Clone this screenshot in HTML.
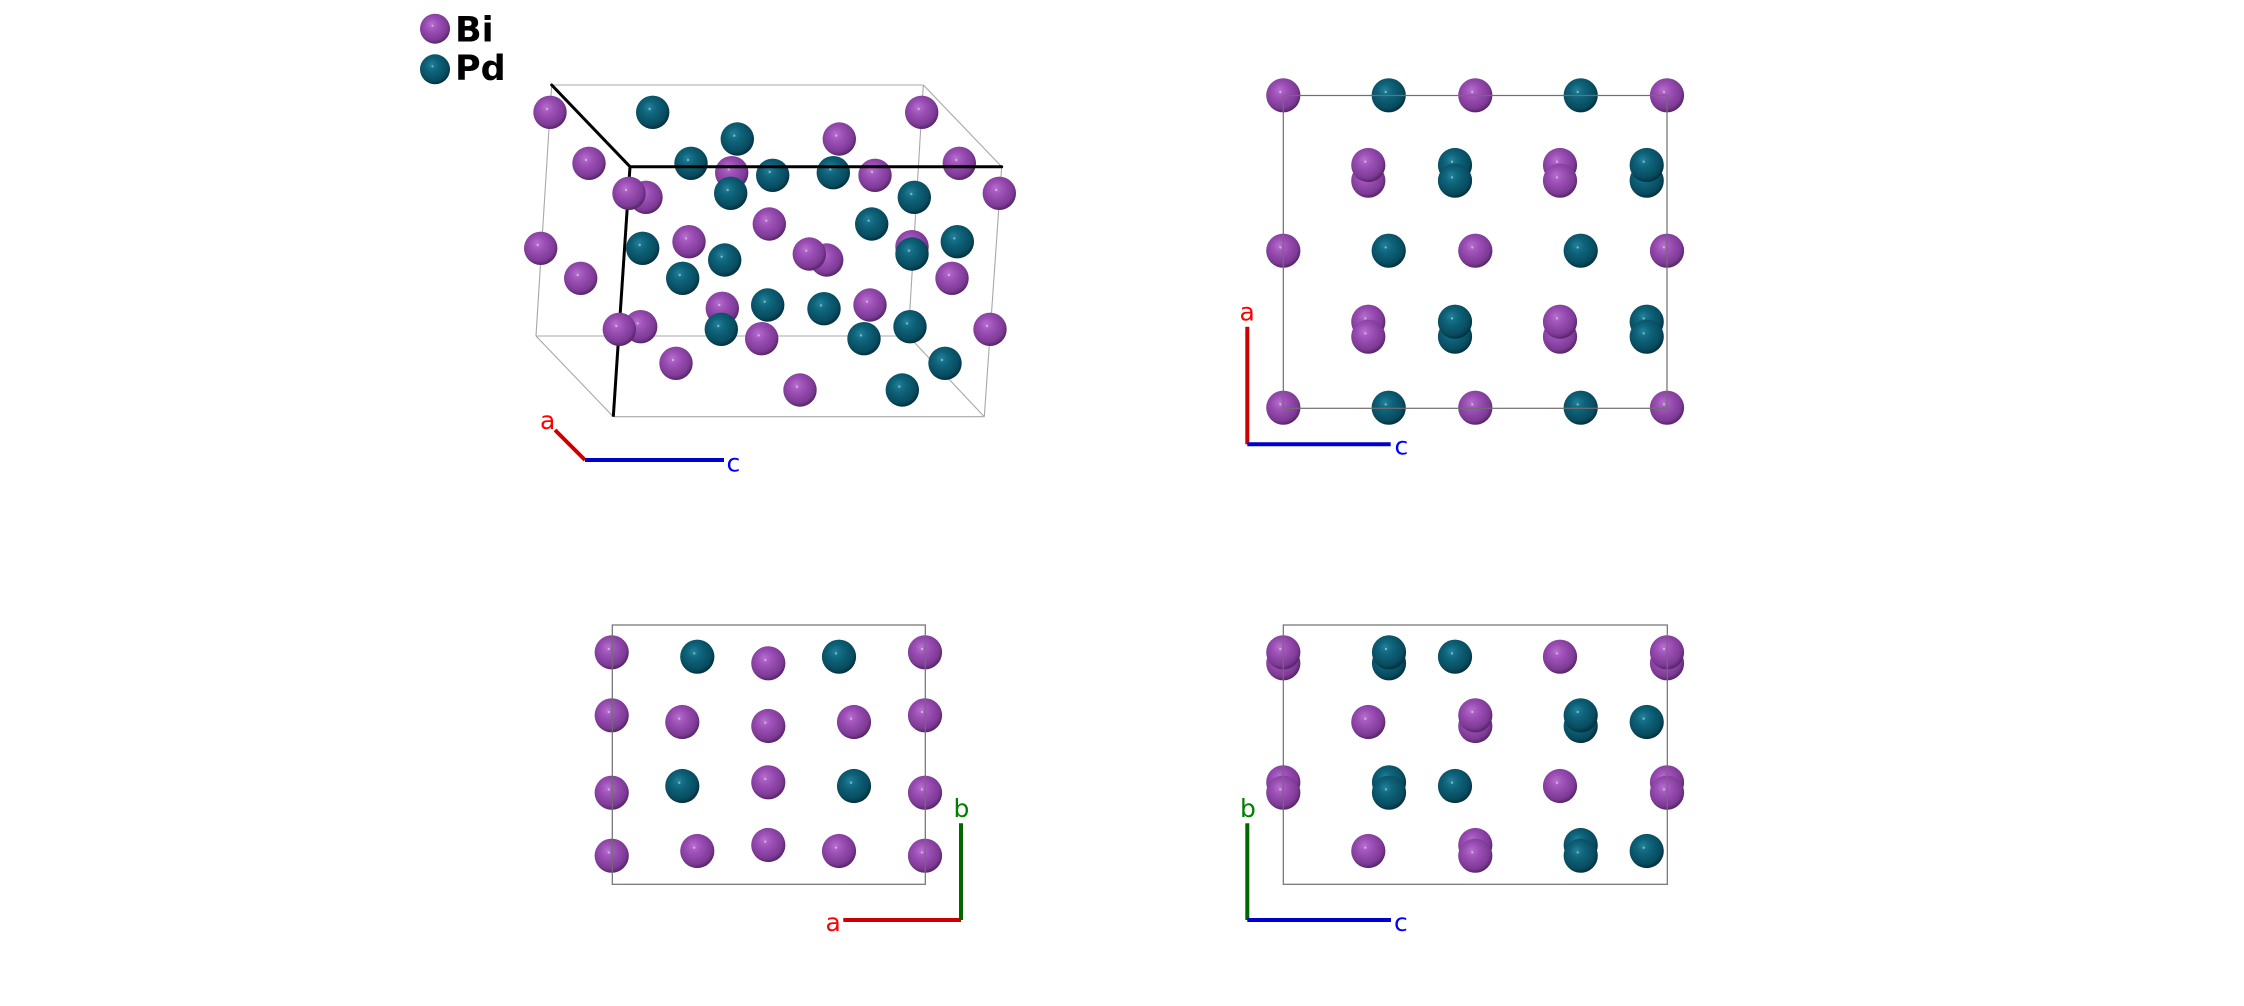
<!DOCTYPE html>
<html>
<head>
<meta charset="utf-8">
<style>
html,body{margin:0;padding:0;background:#fff;}
body{width:2244px;height:1006px;overflow:hidden;}
svg{display:block;}
</style>
</head>
<body>
<svg width="2244" height="1006" viewBox="0 0 2244 1006" xmlns="http://www.w3.org/2000/svg">
<defs>
<radialGradient id="gBi" cx="0.45" cy="0.42" r="0.6" fx="0.38" fy="0.34">
<stop offset="0" stop-color="#b46fcb"/>
<stop offset="0.35" stop-color="#9d50b7"/>
<stop offset="0.8" stop-color="#7d3a95"/>
<stop offset="1" stop-color="#4f2160"/>
</radialGradient>
<radialGradient id="gPd" cx="0.45" cy="0.42" r="0.6" fx="0.38" fy="0.34">
<stop offset="0" stop-color="#23809a"/>
<stop offset="0.35" stop-color="#0e647b"/>
<stop offset="0.8" stop-color="#084b5f"/>
<stop offset="1" stop-color="#022b37"/>
</radialGradient>
<g id="bi"><circle r="17.1" fill="url(#gBi)"/><circle cx="-3" cy="-3.3" r="1.2" fill="#e6c8ee" opacity="0.7"/></g>
<g id="pd"><circle r="17.1" fill="url(#gPd)"/><circle cx="-3" cy="-3.3" r="1.2" fill="#a8d0dc" opacity="0.7"/></g>
<g id="bi2"><circle r="16.7" fill="url(#gBi)"/><circle cx="-3" cy="-3.3" r="1.2" fill="#e6c8ee" opacity="0.7"/></g>
<g id="pd2"><circle r="16.7" fill="url(#gPd)"/><circle cx="-3" cy="-3.3" r="1.2" fill="#a8d0dc" opacity="0.7"/></g>
<g id="bil"><circle r="15" fill="url(#gBi)"/><circle cx="-2.5" cy="-3" r="1.1" fill="#e6c8ee" opacity="0.7"/></g>
<g id="pdl"><circle r="15" fill="url(#gPd)"/><circle cx="-2.5" cy="-3" r="1.1" fill="#a8d0dc" opacity="0.7"/></g>
</defs>

<!-- Legend -->
<use href="#bil" x="435" y="28.7"/>
<use href="#pdl" x="435" y="69.3"/>
<text x="455" y="41.7" font-family="DejaVu Sans, Liberation Sans, sans-serif" font-weight="bold" font-size="35" fill="#000">Bi</text>
<text x="455" y="80" font-family="DejaVu Sans, Liberation Sans, sans-serif" font-weight="bold" font-size="35" fill="#000">Pd</text>

<!-- ===== Top-left 3D panel ===== -->
<g stroke="#a8a8a8" stroke-width="1.1" fill="none">
<line x1="551.7" y1="85" x2="923.3" y2="85"/>
<line x1="551.7" y1="85" x2="536" y2="336"/>
<line x1="536" y1="336" x2="908.3" y2="336"/>
<line x1="923.3" y1="85" x2="908.3" y2="336"/>
<line x1="923.3" y1="85" x2="1001.7" y2="166.7"/>
<line x1="1001.7" y1="166.7" x2="984.3" y2="416.7"/>
<line x1="536" y1="336" x2="613.3" y2="416.7"/>
<line x1="613.3" y1="416.7" x2="984.3" y2="416.7"/>
<line x1="908.3" y1="336" x2="984.3" y2="416.7"/>
</g>
<line x1="630" y1="166.7" x2="613.3" y2="416.7" stroke="#000" stroke-width="3"/>

<use href="#bi2" x="550" y="112.3"/>
<use href="#pd2" x="652.7" y="112.3"/>
<use href="#bi2" x="921.7" y="112.3"/>
<use href="#pd2" x="737.3" y="139"/>
<use href="#bi2" x="839.3" y="139"/>
<use href="#bi2" x="589" y="163.3"/>
<use href="#pd2" x="691" y="163.3"/>
<use href="#bi2" x="959.3" y="163.3"/>
<use href="#bi2" x="731.7" y="172.7"/>
<use href="#pd2" x="772.7" y="175.3"/>
<use href="#pd2" x="833.3" y="172.7"/>
<use href="#bi2" x="875" y="175.3"/>
<use href="#pd2" x="730.7" y="193.3"/>
<use href="#bi2" x="999.3" y="193.3"/>
<use href="#bi2" x="646" y="197.3"/>
<use href="#bi2" x="629" y="193.3"/>
<use href="#pd2" x="914.3" y="197.3"/>
<use href="#bi2" x="769.3" y="224"/>
<use href="#pd2" x="871.7" y="224"/>
<use href="#bi2" x="540.7" y="248.3"/>
<use href="#pd2" x="642.7" y="248.3"/>
<use href="#bi2" x="689" y="241.7"/>
<use href="#pd2" x="724.7" y="260"/>
<use href="#bi2" x="826.7" y="260"/>
<use href="#bi2" x="809.3" y="254"/>
<use href="#bi2" x="912" y="246.7"/>
<use href="#pd2" x="912" y="254"/>
<use href="#pd2" x="957.3" y="241.7"/>
<use href="#bi2" x="580.7" y="278.3"/>
<use href="#pd2" x="682.7" y="278.3"/>
<use href="#bi2" x="952" y="278.3"/>
<use href="#bi2" x="722.3" y="308.3"/>
<use href="#pd2" x="767.7" y="305"/>
<use href="#pd2" x="824" y="308.7"/>
<use href="#bi2" x="870" y="305"/>
<use href="#pd2" x="721.3" y="329.3"/>
<use href="#bi2" x="640.7" y="326.7"/>
<use href="#bi2" x="619.3" y="329.3"/>
<use href="#bi2" x="761.7" y="338.7"/>
<use href="#pd2" x="864" y="338.7"/>
<use href="#pd2" x="910" y="326.7"/>
<use href="#bi2" x="990" y="329.3"/>
<use href="#bi2" x="676" y="363.3"/>
<use href="#pd2" x="945" y="363.3"/>
<use href="#bi2" x="800" y="390"/>
<use href="#pd2" x="902.3" y="390"/>

<g stroke="#000" stroke-width="3" fill="none" stroke-linecap="round">
<line x1="551.7" y1="85" x2="630" y2="166.7"/>
<line x1="630" y1="166.7" x2="1001.7" y2="166.7"/>
</g>

<!-- axes TL -->
<line x1="555" y1="430" x2="585" y2="460" stroke="#cc0000" stroke-width="4"/>
<line x1="585" y1="460" x2="724" y2="460" stroke="#0000cc" stroke-width="4"/>
<text x="540" y="429" font-family="DejaVu Sans, Liberation Sans, sans-serif" font-size="25" fill="#ff0000">a</text>
<text x="726.5" y="471.7" font-family="DejaVu Sans, Liberation Sans, sans-serif" font-size="25" fill="#0000ff">c</text>

<!-- ===== Top-right panel ===== -->
<use href="#bi" x="1283.3" y="95.3"/>
<use href="#pd" x="1388.7" y="95.3"/>
<use href="#bi" x="1475.3" y="95.3"/>
<use href="#pd" x="1580.7" y="95.3"/>
<use href="#bi" x="1667" y="95.3"/>

<use href="#bi" x="1368.3" y="180.7"/>
<use href="#bi" x="1368.3" y="165"/>
<use href="#pd" x="1455" y="165"/>
<use href="#pd" x="1455" y="180.7"/>
<use href="#bi" x="1560" y="165"/>
<use href="#bi" x="1560" y="180.7"/>
<use href="#pd" x="1646.7" y="180.7"/>
<use href="#pd" x="1646.7" y="165"/>

<use href="#bi" x="1283.3" y="250.7"/>
<use href="#pd" x="1388.7" y="250.7"/>
<use href="#bi" x="1475.3" y="250.7"/>
<use href="#pd" x="1580.7" y="250.7"/>
<use href="#bi" x="1667" y="250.7"/>

<use href="#bi" x="1368.3" y="321.7"/>
<use href="#bi" x="1368.3" y="336.7"/>
<use href="#pd" x="1455" y="336.7"/>
<use href="#pd" x="1455" y="321.7"/>
<use href="#bi" x="1560" y="336.7"/>
<use href="#bi" x="1560" y="321.7"/>
<use href="#pd" x="1646.7" y="321.7"/>
<use href="#pd" x="1646.7" y="336.7"/>

<use href="#bi" x="1283.3" y="407.7"/>
<use href="#pd" x="1388.7" y="407.7"/>
<use href="#bi" x="1475.3" y="407.7"/>
<use href="#pd" x="1580.7" y="407.7"/>
<use href="#bi" x="1667" y="407.7"/>

<rect x="1283.3" y="95.5" width="383.7" height="312.8" fill="none" stroke="#6e6e6e" stroke-width="1.2"/>

<line x1="1247.3" y1="326.7" x2="1247.3" y2="444.3" stroke="#cc0000" stroke-width="4"/>
<line x1="1247.3" y1="444.3" x2="1390.7" y2="444.3" stroke="#0000cc" stroke-width="4"/>
<text x="1239.5" y="320.7" font-family="DejaVu Sans, Liberation Sans, sans-serif" font-size="25" fill="#ff0000">a</text>
<text x="1394.5" y="454.3" font-family="DejaVu Sans, Liberation Sans, sans-serif" font-size="25" fill="#0000ff">c</text>

<!-- ===== Bottom-left panel ===== -->
<use href="#bi" x="611.7" y="652.3"/>
<use href="#pd" x="697.3" y="656.7"/>
<use href="#bi" x="768.3" y="663.3"/>
<use href="#pd" x="839" y="656.7"/>
<use href="#bi" x="925" y="652.3"/>

<use href="#bi" x="611.7" y="715.3"/>
<use href="#bi" x="682.3" y="722"/>
<use href="#bi" x="768.3" y="726"/>
<use href="#bi" x="854" y="722"/>
<use href="#bi" x="925" y="715.3"/>

<use href="#bi" x="611.7" y="792.7"/>
<use href="#pd" x="682.3" y="786"/>
<use href="#bi" x="768.3" y="782.3"/>
<use href="#pd" x="854" y="786"/>
<use href="#bi" x="925" y="792.7"/>

<use href="#bi" x="611.7" y="855.7"/>
<use href="#bi" x="697.3" y="851"/>
<use href="#bi" x="768.3" y="845"/>
<use href="#bi" x="839" y="851"/>
<use href="#bi" x="925" y="855.7"/>

<rect x="612.3" y="625" width="313" height="259.3" fill="none" stroke="#6e6e6e" stroke-width="1.2"/>

<line x1="843.3" y1="920" x2="961" y2="920" stroke="#cc0000" stroke-width="4"/>
<line x1="961" y1="823.3" x2="961" y2="920" stroke="#006600" stroke-width="4"/>
<text x="825.5" y="931" font-family="DejaVu Sans, Liberation Sans, sans-serif" font-size="25" fill="#ff0000">a</text>
<text x="953.5" y="817" font-family="DejaVu Sans, Liberation Sans, sans-serif" font-size="25" fill="#008000">b</text>

<!-- ===== Bottom-right panel ===== -->
<use href="#bi" x="1283.3" y="663.3"/>
<use href="#bi" x="1283.3" y="652.3"/>
<use href="#pd" x="1389" y="663.3"/>
<use href="#pd" x="1389" y="652.3"/>
<use href="#pd" x="1455" y="656.7"/>
<use href="#bi" x="1560" y="656.7"/>
<use href="#bi" x="1667" y="663.3"/>
<use href="#bi" x="1667" y="652.3"/>

<use href="#bi" x="1368.3" y="722"/>
<use href="#bi" x="1475.3" y="726"/>
<use href="#bi" x="1475.3" y="715.3"/>
<use href="#pd" x="1580.7" y="726"/>
<use href="#pd" x="1580.7" y="715.3"/>
<use href="#pd" x="1646.7" y="722"/>

<use href="#bi" x="1283.3" y="782.3"/>
<use href="#bi" x="1283.3" y="792.7"/>
<use href="#pd" x="1389" y="782.3"/>
<use href="#pd" x="1389" y="792.7"/>
<use href="#pd" x="1455" y="786"/>
<use href="#bi" x="1560" y="786"/>
<use href="#bi" x="1667" y="782.3"/>
<use href="#bi" x="1667" y="792.7"/>

<use href="#bi" x="1368.3" y="851"/>
<use href="#bi" x="1475.3" y="845"/>
<use href="#bi" x="1475.3" y="855.7"/>
<use href="#pd" x="1580.7" y="845"/>
<use href="#pd" x="1580.7" y="855.7"/>
<use href="#pd" x="1646.7" y="851"/>

<rect x="1283.3" y="625" width="384" height="259.3" fill="none" stroke="#6e6e6e" stroke-width="1.2"/>

<line x1="1247.3" y1="823.3" x2="1247.3" y2="920" stroke="#006600" stroke-width="4"/>
<line x1="1247.3" y1="920" x2="1391" y2="920" stroke="#0000cc" stroke-width="4"/>
<text x="1240" y="817" font-family="DejaVu Sans, Liberation Sans, sans-serif" font-size="25" fill="#008000">b</text>
<text x="1394" y="931" font-family="DejaVu Sans, Liberation Sans, sans-serif" font-size="25" fill="#0000ff">c</text>
</svg>
</body>
</html>
